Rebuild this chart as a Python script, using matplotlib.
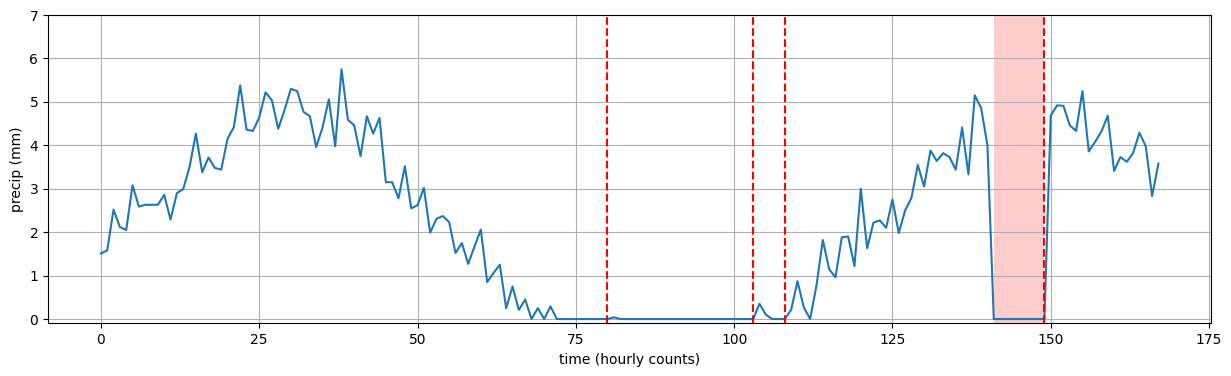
import matplotlib
matplotlib.use("Agg")
import matplotlib.pyplot as plt

# hourly precipitation readings (mm)
precip = [
    1.51, 1.58, 2.52, 2.12, 2.05, 3.08, 2.59, 2.63, 2.63, 2.63,
    2.86, 2.29, 2.90, 2.99, 3.50, 4.27, 3.38, 3.72, 3.48, 3.44,
    4.15, 4.42, 5.38, 4.36, 4.33, 4.64, 5.22, 5.04, 4.38, 4.81,
    5.30, 5.25, 4.77, 4.67, 3.96, 4.41, 5.06, 3.98, 5.75, 4.59,
    4.46, 3.75, 4.67, 4.27, 4.63, 3.15, 3.15, 2.78, 3.52, 2.55,
    2.62, 3.02, 1.99, 2.31, 2.37, 2.23, 1.52, 1.75, 1.27, 1.67,
    2.06, 0.85, 1.06, 1.25, 0.25, 0.75, 0.21, 0.45, 0.00, 0.25,
    0.00, 0.29, 0.00, 0.00, 0.00, 0.00, 0.00, 0.00, 0.00, 0.00,
    0.00, 0.04, 0.00, 0.00, 0.00, 0.00, 0.00, 0.00, 0.00, 0.00,
    0.00, 0.00, 0.00, 0.00, 0.00, 0.00, 0.00, 0.00, 0.00, 0.00,
    0.00, 0.00, 0.00, 0.00, 0.35, 0.10, 0.00, 0.00, 0.00, 0.21,
    0.87, 0.27, 0.00, 0.77, 1.82, 1.15, 0.96, 1.88, 1.90, 1.22,
    3.00, 1.63, 2.22, 2.27, 2.10, 2.75, 1.98, 2.50, 2.79, 3.55,
    3.05, 3.88, 3.64, 3.82, 3.73, 3.44, 4.41, 3.33, 5.15, 4.86,
    4.00, 0.00, 0.00, 0.00, 0.00, 0.00, 0.00, 0.00, 0.00, 0.00,
    4.69, 4.92, 4.91, 4.46, 4.33, 5.25, 3.86, 4.08, 4.32, 4.68,
    3.41, 3.73, 3.62, 3.82, 4.29, 3.98, 2.83, 3.58,
]
hours = list(range(len(precip)))

events = [80, 103, 108, 149]   # red dashed markers
gap = (141, 149)               # shaded interval

fig, ax = plt.subplots(figsize=(12.31, 3.76), dpi=100)
fig.subplots_adjust(left=0.039, right=0.984, top=0.96, bottom=0.14)

ax.plot(hours, precip, color='tab:blue')
for e in events:
    ax.axvline(e, color='red', linestyle='--')
ax.axvspan(gap[0], gap[1], color='red', alpha=0.2, lw=0)

ax.set_ylim(-0.1, 7)
ax.grid(True)
ax.set_xlabel('time (hourly counts)')
ax.set_ylabel('precip (mm)')

plt.savefig("out.png", dpi=100)
